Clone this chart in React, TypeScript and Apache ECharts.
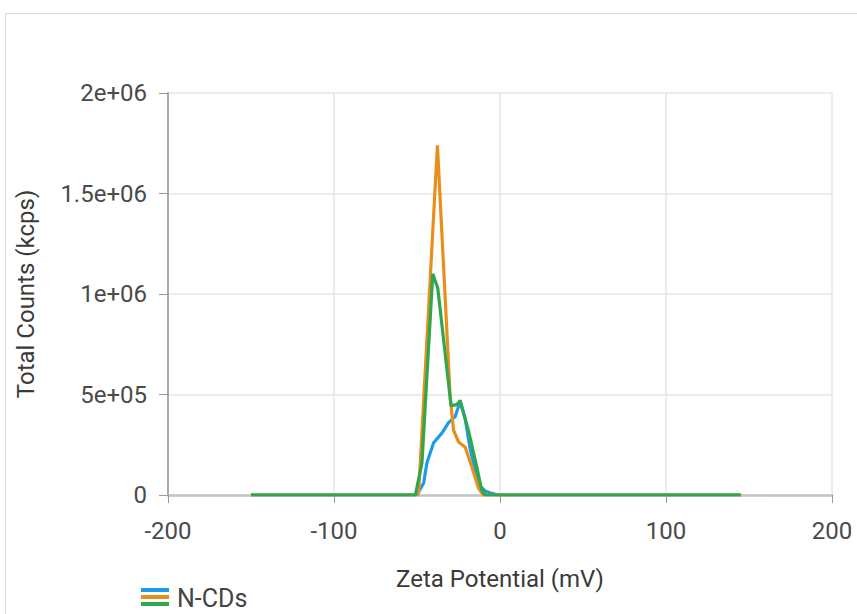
import React, { useEffect, useRef } from "react";
import * as echarts from "echarts";

const blueX = [-150, -50, -46, -44, -40, -35, -31, -27, -24, -21, -18, -15, -12, -9, -5, -1, 145];
const blueY = [0, 0, 60000, 160000, 260000, 308000, 360000, 390000, 465000, 380000, 230000, 130000, 45000, 20000, 8000, 0, 0];

const orangeX = [-150, -51, -49, -37.7, -30, -28, -25, -21, -17, -13, -10, 145];
const orangeY = [0, 0, 10000, 1740000, 487000, 323000, 264000, 239000, 140000, 35000, 0, 0];

const greenX = [-150, -51, -47, -40.5, -37.5, -29.5, -26, -24, -19, -14, -11, -9, 145];
const greenY = [0, 0, 160000, 1100000, 1030000, 445000, 450000, 470000, 320000, 140000, 25000, 0, 0];

const xTicks = [-200, -100, 0, 100, 200];
const yTickLabels: Record<number, string> = { 0: "0", 500000: "5e+05", 1000000: "1e+06", 1500000: "1.5e+06", 2000000: "2e+06" };

const seriesName = "N-CDs";
const colors = { blue: "#1E9BE8", orange: "#EA8E1B", green: "#2FA84D" };

const zip = (xs: number[], ys: number[]) => xs.map((x, i) => [x, ys[i]]);

export default function App() {
  const ref = useRef<HTMLDivElement>(null);
  useEffect(() => {
    if (!ref.current) return;
    const chart = echarts.init(ref.current, null, { renderer: "svg" });
    const font = "Roboto, sans-serif";
    const lineSeries = (name: string, data: number[][], color: string) => ({
      type: "line",
      name,
      data,
      showSymbol: false,
      symbol: "none",
      lineStyle: { color, width: 3.2 },
      itemStyle: { color },
    });
    chart.setOption({
      animation: false,
      backgroundColor: "#fff",
      grid: { left: 168, right: 25, top: 93, bottom: 119 },
      xAxis: {
        type: "value",
        min: -200,
        max: 200,
        interval: 100,
        name: "Zeta Potential (mV)",
        nameLocation: "middle",
        nameGap: 72,
        nameTextStyle: { fontFamily: font, fontSize: 24, color: "#3a3a3a" },
        axisLine: { show: true, onZero: false, lineStyle: { color: "#c4c4c4", width: 2.5 } },
        axisTick: { show: true, length: 8, lineStyle: { color: "#999", width: 1 } },
        axisLabel: {
          fontFamily: font, fontSize: 24, color: "#4a4a4a", margin: 24,
          formatter: (v: number) => (xTicks.includes(v) ? String(v) : ""),
        },
        splitLine: { show: true, lineStyle: { color: "#e6e6e6", width: 1.5 } },
      },
      yAxis: {
        type: "value",
        min: 0,
        max: 2000000,
        interval: 500000,
        name: "Total Counts (kcps)",
        nameLocation: "middle",
        nameGap: 130,
        nameRotate: 90,
        nameTextStyle: { fontFamily: font, fontSize: 24, color: "#3a3a3a" },
        axisLine: { show: true, onZero: false, lineStyle: { color: "#aaa", width: 2 } },
        axisTick: { show: true, length: 9, lineStyle: { color: "#999" } },
        axisLabel: {
          fontFamily: font, fontSize: 24, color: "#4a4a4a", margin: 21,
          formatter: (v: number) => yTickLabels[v] ?? String(v),
        },
        splitLine: { show: true, lineStyle: { color: "#e6e6e6", width: 1.5 } },
      },
      series: [
        lineSeries(seriesName + " 1", zip(blueX, blueY), colors.blue),
        lineSeries(seriesName + " 2", zip(orangeX, orangeY), colors.orange),
        lineSeries(seriesName + " 3", zip(greenX, greenY), colors.green),
      ],
      graphic: [
        {
          type: "rect",
          shape: { x: 5.5, y: 13.5, width: 900, height: 700 },
          style: { fill: "none", stroke: "#dcdcdc", lineWidth: 1 },
          silent: true,
        },
        { type: "rect", shape: { x: 141, y: 588, width: 28, height: 4 }, style: { fill: colors.blue } },
        { type: "rect", shape: { x: 141, y: 595, width: 28, height: 4 }, style: { fill: colors.orange } },
        { type: "rect", shape: { x: 141, y: 602, width: 28, height: 4 }, style: { fill: colors.green } },
        {
          type: "text",
          x: 177,
          y: 598,
          style: { text: seriesName, fontFamily: font, fontSize: 25, fill: "#444", verticalAlign: "middle" },
        },
      ],
    });
    return () => chart.dispose();
  }, []);
  return <div ref={ref} style={{ width: 857, height: 614, position: "absolute", left: 0, top: 0 }} />;
}
